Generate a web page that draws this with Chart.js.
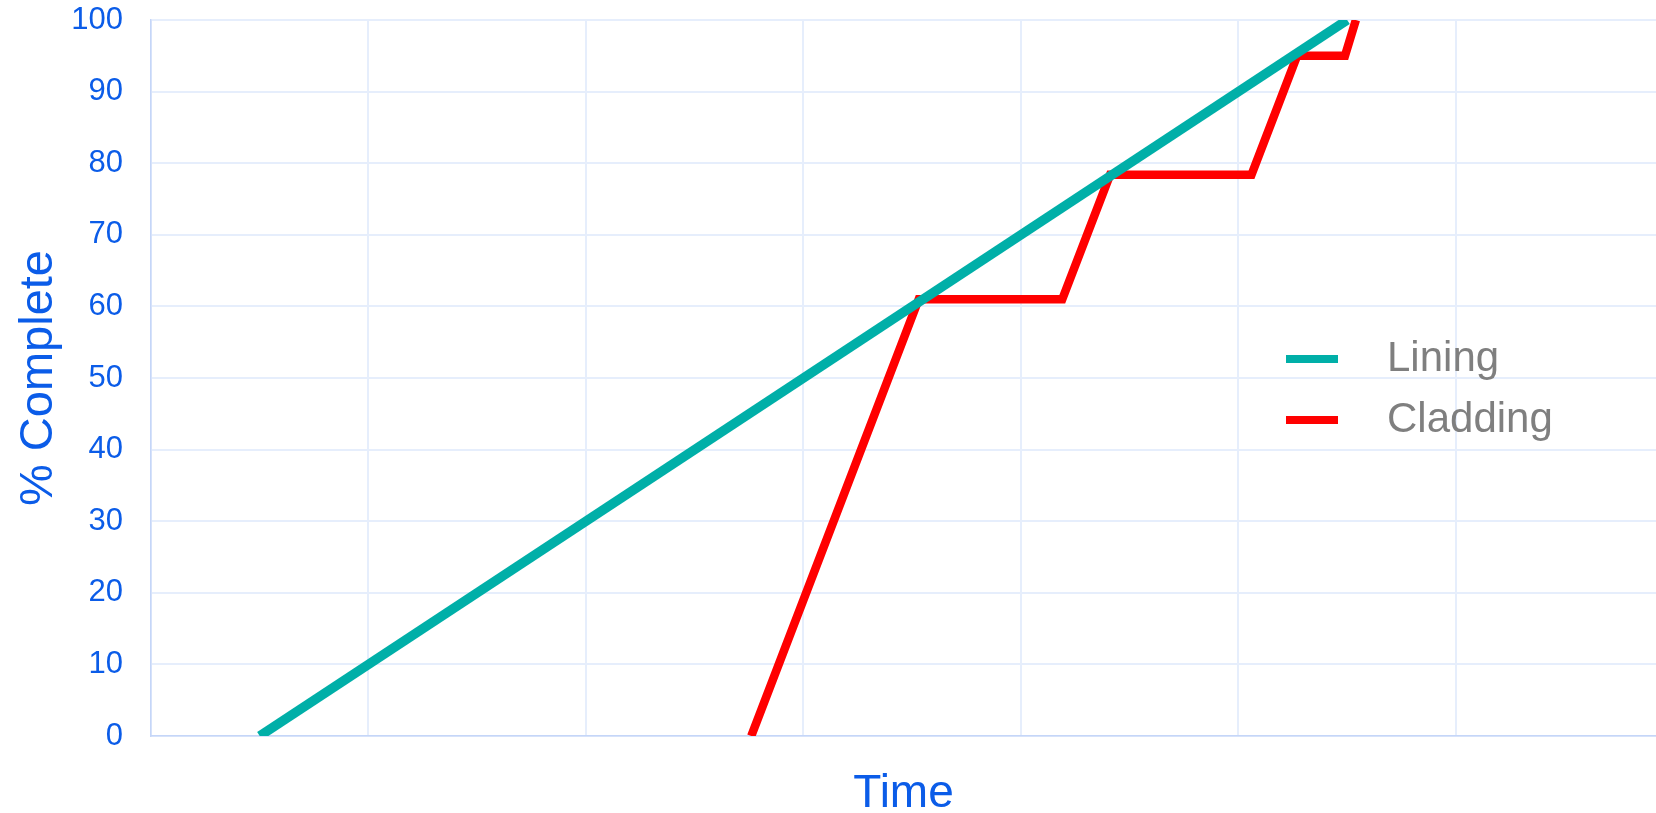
<!DOCTYPE html>
<html>
<head>
<meta charset="utf-8">
<script src="https://cdn.jsdelivr.net/npm/chart.js@4.4.1/dist/chart.umd.min.js"></script>
<style>
  html, body { margin: 0; padding: 0; background: #ffffff; }
  #wrap { width: 1656px; height: 813px; position: relative; }
</style>
</head>
<body>
<div id="wrap"><canvas id="c" width="1656" height="813"></canvas></div>
<script>
// Progress curves: x is time (in grid periods), y is % complete
const seriesNames = ['Lining', 'Cladding'];
const liningX = [0.5, 5.5];
const liningY = [0, 100];
const claddingX = [2.76, 3.53, 4.19, 4.41, 5.06, 5.27, 5.49, 5.54];
const claddingY = [0, 61, 61, 78.4, 78.4, 95, 95, 100];
const yTicks = [0, 10, 20, 30, 40, 50, 60, 70, 80, 90, 100];
const xGridPeriods = [0, 1, 2, 3, 4, 5, 6];

const TEAL = '#00AFA8';
const RED = '#FF0000';
const BLUE = '#0B5CE8';
const GREY = '#7F7F7F';
const FONT = "'Liberation Sans', Arial, sans-serif";

const toPoints = (xs, ys) => xs.map((x, i) => ({ x, y: ys[i] }));

// Legend drawn inside the plot, to the right
const innerLegend = {
  id: 'innerLegend',
  afterDatasetsDraw(chart) {
    const ctx = chart.ctx;
    const rows = [359, 420];
    ctx.save();
    chart.data.datasets.forEach((ds, i) => {
      const y = rows[i];
      ctx.beginPath();
      ctx.strokeStyle = ds.borderColor;
      ctx.lineWidth = 8;
      ctx.lineCap = 'butt';
      ctx.moveTo(1286, y);
      ctx.lineTo(1338, y);
      ctx.stroke();
      ctx.fillStyle = GREY;
      ctx.font = '42px ' + FONT;
      ctx.textAlign = 'left';
      ctx.textBaseline = 'middle';
      ctx.fillText(ds.label, 1387, y);
    });
    ctx.restore();
  }
};

new Chart(document.getElementById('c'), {
  type: 'line',
  data: {
    datasets: [
      {
        label: seriesNames[0],
        data: toPoints(liningX, liningY),
        borderColor: TEAL,
        backgroundColor: TEAL,
        borderWidth: 9.5,
        pointRadius: 0,
        tension: 0
      },
      {
        label: seriesNames[1],
        data: toPoints(claddingX, claddingY),
        borderColor: RED,
        backgroundColor: RED,
        borderWidth: 8.5,
        pointRadius: 0,
        tension: 0
      }
    ]
  },
  options: {
    responsive: false,
    devicePixelRatio: 1,
    animation: false,
    layout: { padding: { top: 20, right: 0, left: 0, bottom: 0 } },
    plugins: {
      legend: { display: false },
      tooltip: { enabled: false }
    },
    scales: {
      x: {
        type: 'linear',
        min: 0,
        max: 6.92,
        afterBuildTicks(scale) {
          scale.ticks = xGridPeriods.map(v => ({ value: v }));
        },
        afterFit(scale) {
          scale.height = 77;
          scale.paddingLeft = 0;
          scale.paddingRight = 0;
        },
        ticks: { display: false },
        grid: { color: '#E6EEFC', lineWidth: 2, drawTicks: false },
        border: { color: '#C5D6F8', width: 1.5 },
        title: {
          display: true,
          text: 'Time',
          color: BLUE,
          font: { family: FONT, size: 46, lineHeight: 0.83 },
          padding: { top: 0, bottom: 0 }
        }
      },
      y: {
        type: 'linear',
        min: 0,
        max: 100,
        afterBuildTicks(scale) {
          scale.ticks = yTicks.map(v => ({ value: v }));
        },
        afterFit(scale) {
          scale.width = 151;
          scale.paddingTop = 0;
          scale.paddingBottom = 0;
        },
        ticks: {
          color: BLUE,
          padding: 28,
          font: { family: FONT, size: 31 }
        },
        grid: { color: '#E6EEFC', lineWidth: 2, drawTicks: false },
        border: { color: '#C5D6F8', width: 1.5 },
        title: {
          display: true,
          text: '% Complete',
          color: BLUE,
          font: { family: FONT, size: 47, lineHeight: 1 },
          padding: { top: 16, bottom: 0 }
        }
      }
    }
  },
  plugins: [innerLegend]
});
</script>
</body>
</html>
